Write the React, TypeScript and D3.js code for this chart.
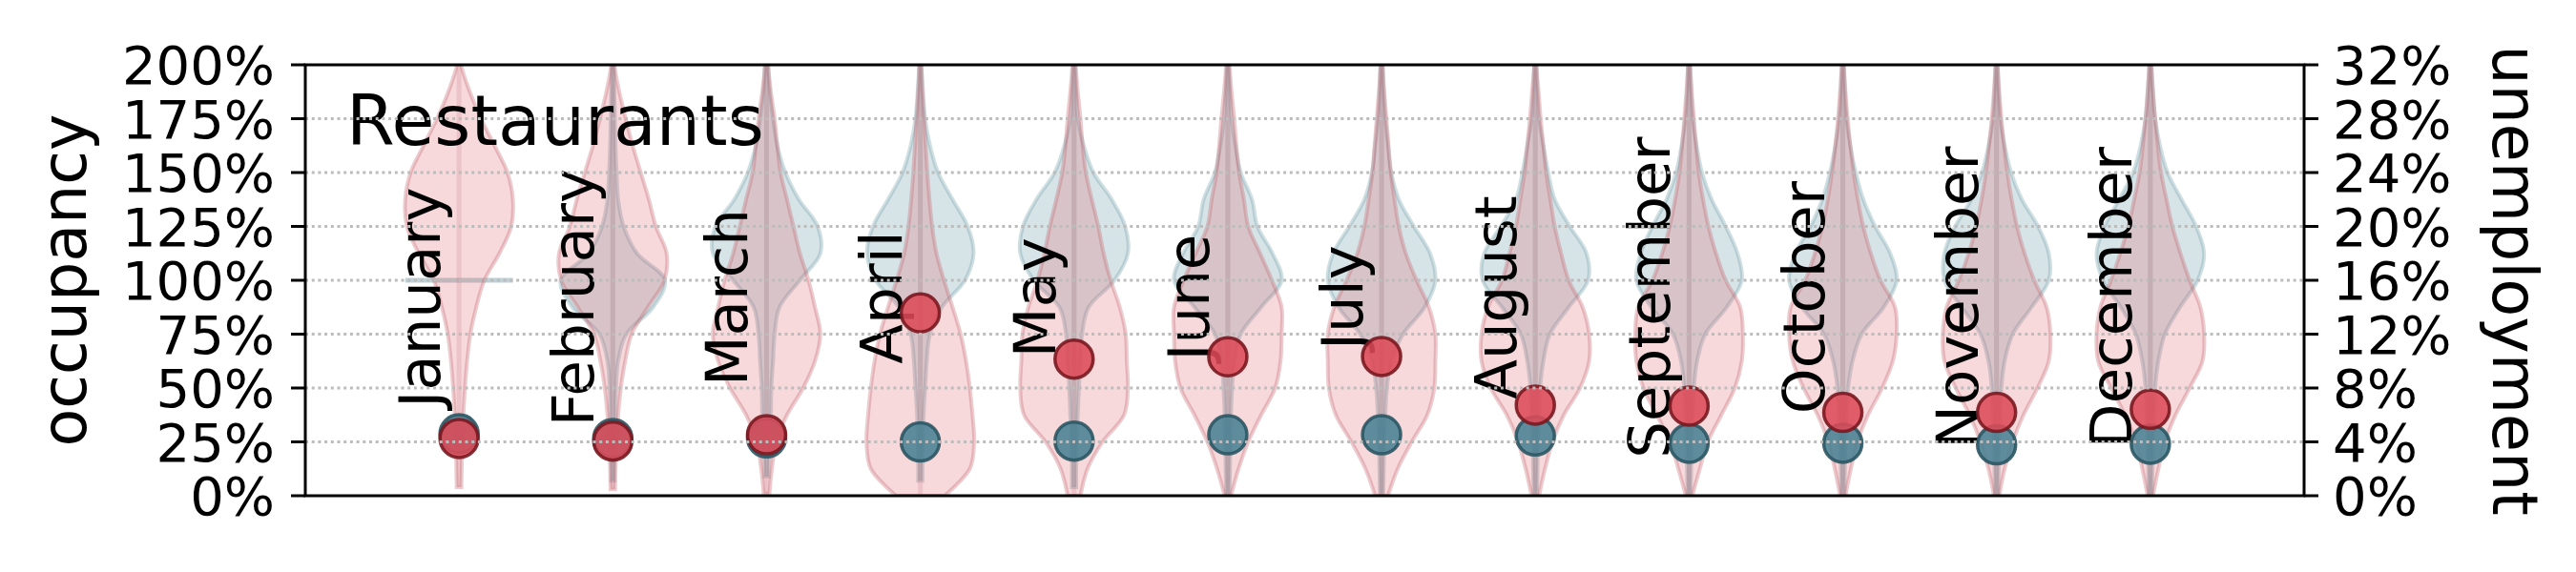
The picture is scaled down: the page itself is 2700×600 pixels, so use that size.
import React, { useEffect, useRef } from "react";
import * as d3 from "d3";

const months = ["January", "February", "March", "April", "May", "June", "July",
    "August", "September", "October", "November", "December"];

// occupancy levels (%) at which the violin widths were read
const levels = [0, 12.5, 25, 37.5, 50, 62.5, 75, 87.5, 100, 112.5, 125, 137.5, 150, 162.5, 175, 187.5, 200];

// 2019 violins (teal), relative half-width at each level
const occ2019 = [
    [0, 0, 0, 0, 0, 0, 0, 0, 1.0, 0, 0, 0, 0, 0, 0, 0, 0],
    [0.03, 0.03, 0.04, 0.05, 0.06, 0.1, 0.25, 0.75, 0.97, 0.45, 0.2, 0.1, 0.07, 0.05, 0.04, 0.03, 0.02],
    [0.04, 0.04, 0.06, 0.08, 0.09, 0.12, 0.15, 0.24, 0.62, 1.0, 0.95, 0.6, 0.35, 0.2, 0.12, 0.06, 0.03],
    [0.04, 0.04, 0.05, 0.06, 0.09, 0.12, 0.18, 0.4, 0.83, 0.99, 0.88, 0.6, 0.33, 0.18, 0.09, 0.05, 0.02],
    [0.04, 0.04, 0.05, 0.07, 0.09, 0.12, 0.15, 0.27, 0.75, 1.0, 0.95, 0.7, 0.36, 0.18, 0.07, 0.04, 0.02],
    [0.03, 0.04, 0.05, 0.06, 0.08, 0.12, 0.24, 0.62, 1.0, 0.83, 0.55, 0.45, 0.24, 0.14, 0.07, 0.04, 0.02],
    [0.03, 0.04, 0.05, 0.07, 0.1, 0.18, 0.4, 0.8, 1.0, 0.9, 0.6, 0.32, 0.18, 0.12, 0.07, 0.04, 0.02],
    [0.03, 0.04, 0.05, 0.07, 0.09, 0.15, 0.27, 0.62, 0.98, 0.95, 0.64, 0.36, 0.24, 0.15, 0.07, 0.04, 0.02],
    [0.03, 0.04, 0.05, 0.07, 0.09, 0.15, 0.3, 0.7, 0.98, 0.9, 0.68, 0.42, 0.24, 0.14, 0.07, 0.04, 0.02],
    [0.03, 0.04, 0.05, 0.07, 0.1, 0.18, 0.35, 0.76, 1.0, 0.88, 0.6, 0.38, 0.24, 0.14, 0.07, 0.04, 0.02],
    [0.03, 0.04, 0.05, 0.07, 0.09, 0.15, 0.3, 0.65, 0.97, 0.97, 0.77, 0.47, 0.27, 0.15, 0.07, 0.04, 0.02],
    [0.03, 0.04, 0.05, 0.07, 0.09, 0.15, 0.27, 0.55, 0.88, 1.0, 0.85, 0.58, 0.32, 0.18, 0.09, 0.05, 0.02],
];
const min2019 = [100, 7, 9, 7, 4, 1, 1, 1, 1, 1, 1, 1];
const max2019 = [100, 215, 215, 215, 215, 215, 215, 215, 215, 215, 215, 215];

// 2020 violins (red)
const occ2020 = [
    [0.04, 0.05, 0.06, 0.08, 0.11, 0.15, 0.21, 0.32, 0.47, 0.75, 0.97, 1.0, 0.9, 0.66, 0.41, 0.2, 0.04],
    [0.04, 0.05, 0.07, 0.1, 0.15, 0.23, 0.35, 0.65, 0.96, 1.0, 0.8, 0.67, 0.52, 0.37, 0.24, 0.12, 0.03],
    [0.05, 0.1, 0.18, 0.38, 0.68, 0.9, 1.0, 0.9, 0.78, 0.62, 0.5, 0.38, 0.26, 0.2, 0.15, 0.08, 0.03],
    [0.45, 0.92, 1.0, 0.97, 0.92, 0.85, 0.75, 0.6, 0.44, 0.3, 0.22, 0.17, 0.13, 0.1, 0.07, 0.04, 0.02],
    [0.12, 0.25, 0.53, 0.93, 1.0, 0.98, 0.96, 0.85, 0.68, 0.55, 0.45, 0.33, 0.22, 0.16, 0.12, 0.07, 0.03],
    [0.06, 0.2, 0.38, 0.62, 0.88, 0.98, 1.0, 1.0, 0.82, 0.6, 0.38, 0.3, 0.21, 0.16, 0.12, 0.07, 0.03],
    [0.12, 0.3, 0.56, 0.85, 0.98, 1.0, 1.0, 0.88, 0.65, 0.45, 0.32, 0.24, 0.17, 0.13, 0.09, 0.05, 0.02],
    [0.07, 0.18, 0.32, 0.53, 0.83, 1.0, 1.0, 0.88, 0.62, 0.48, 0.36, 0.28, 0.2, 0.15, 0.1, 0.06, 0.02],
    [0.06, 0.2, 0.35, 0.6, 0.85, 0.98, 1.0, 0.95, 0.68, 0.5, 0.36, 0.26, 0.18, 0.13, 0.09, 0.05, 0.02],
    [0.05, 0.15, 0.27, 0.47, 0.73, 0.93, 1.0, 0.97, 0.7, 0.52, 0.38, 0.28, 0.2, 0.14, 0.09, 0.05, 0.02],
    [0.05, 0.15, 0.3, 0.5, 0.76, 0.97, 1.0, 0.93, 0.7, 0.52, 0.38, 0.28, 0.2, 0.14, 0.09, 0.05, 0.02],
    [0.05, 0.15, 0.27, 0.47, 0.73, 0.97, 1.0, 0.93, 0.73, 0.56, 0.41, 0.3, 0.2, 0.14, 0.09, 0.05, 0.02],
];
const min2020 = [4, 3, 1, 0, 0, 0, 0, 0, 0, 0, 0, 0];
const max2020 = [215, 215, 215, 215, 215, 215, 215, 215, 215, 215, 215, 215];

// unemployment (%), right axis
const unemp2019 = [4.6, 4.25, 4.3, 4.0, 4.06, 4.53, 4.53, 4.44, 3.9, 3.9, 3.78, 3.83];
const unemp2020 = [4.25, 4.06, 4.53, 13.58, 10.15, 10.32, 10.34, 6.73, 6.66, 6.19, 6.19, 6.42];

const occTicks = [0, 25, 50, 75, 100, 125, 150, 175, 200];
const unempTicks = [0, 4, 8, 12, 16, 20, 24, 28, 32];

const W = 2700, H = 600;
const left = 320, right = 2415, top = 68, bottom = 520;
const font = "DejaVu Sans";

const App = () => {
    const ref = useRef<SVGSVGElement>(null);

    useEffect(() => {
        const svg = d3.select(ref.current);
        svg.selectAll("*").remove();

        const x = d3.scaleLinear().domain([0, 13]).range([left, right]);
        const yL = d3.scaleLinear().domain([0, 200]).range([bottom, top]);
        const yR = d3.scaleLinear().domain([0, 32]).range([bottom, top]);
        const hw = 0.35 * (x(1) - x(0)); // max half width of a violin

        svg.append("clipPath").attr("id", "plot")
            .append("rect")
            .attr("x", left).attr("y", top)
            .attr("width", right - left).attr("height", bottom - top);

        const plot = svg.append("g").attr("clip-path", "url(#plot)");

        const widthAt = (w: number[], v: number) => {
            const i = d3.bisectRight(levels, v) - 1;
            if (i >= levels.length - 1) return w[levels.length - 1];
            const t = (v - levels[i]) / (levels[i + 1] - levels[i]);
            return w[i] + (w[i + 1] - w[i]) * t;
        };

        const drawViolins = (rows: number[][], mins: number[], maxs: number[], fill: string, edge: string, fillOp: number) => {
            rows.forEach((w, i) => {
                const cx = x(i + 1);
                const mn = mins[i], mx = maxs[i];
                if (mn === mx) {
                    // all values equal: matplotlib draws a flat line
                    plot.append("line")
                        .attr("x1", cx - widthAt(w, mn) * hw).attr("x2", cx + widthAt(w, mn) * hw)
                        .attr("y1", yL(mn)).attr("y2", yL(mn))
                        .attr("stroke", edge).attr("stroke-opacity", 0.45).attr("stroke-width", 5);
                    return;
                }
                const pts: [number, number][] = [[mn, widthAt(w, mn)]];
                levels.forEach((l, j) => {
                    if (l > mn && l < mx) pts.push([l, w[j]]);
                });
                pts.push([mx, 0.005]);
                const area = d3.area<[number, number]>()
                    .y(d => yL(d[0]))
                    .x0(d => cx - d[1] * hw)
                    .x1(d => cx + d[1] * hw)
                    .curve(d3.curveCatmullRom);
                plot.append("path")
                    .attr("d", area(pts))
                    .attr("fill", fill).attr("fill-opacity", fillOp)
                    .attr("stroke", edge).attr("stroke-opacity", 0.32).attr("stroke-width", 4);
            });
        };

        drawViolins(occ2019, min2019, max2019, "#5f949f", "#6e9aa6", 0.25);
        drawViolins(occ2020, min2020, max2020, "#d94c5a", "#c25f6b", 0.22);

        // centre bars from min to max
        const bars = (mins: number[], maxs: number[], color: string) => {
            plot.selectAll(null)
                .data(mins.map((m, i) => ({m, M: maxs[i], i})).filter(d => d.m !== d.M))
                .join("line")
                .attr("x1", d => x(d.i + 1)).attr("x2", d => x(d.i + 1))
                .attr("y1", d => yL(d.m)).attr("y2", d => yL(d.M))
                .attr("stroke", color).attr("stroke-opacity", 0.22).attr("stroke-width", 5);
        };
        bars(min2019, max2019, "#7f9faa");
        bars(min2020, max2020, "#c77a84");

        // month labels
        svg.append("g").selectAll("text")
            .data(months)
            .join("text")
            .attr("transform", (d, i) => `translate(${x(i + 1) - 20},${yL(92)}) rotate(-90)`)
            .attr("text-anchor", "middle")
            .attr("font-family", font).attr("font-size", 61)
            .text(d => d);

        // title
        svg.append("text")
            .attr("x", 363).attr("y", 152)
            .attr("font-family", font).attr("font-size", 73)
            .text("Restaurants");

        // unemployment dots
        const dots = (vals: number[], fill: string, stroke: string) => {
            svg.append("g").selectAll("circle")
                .data(vals)
                .join("circle")
                .attr("cx", (d, i) => x(i + 1))
                .attr("cy", d => yR(d))
                .attr("r", 20)
                .attr("fill", fill).attr("fill-opacity", 0.88)
                .attr("stroke", stroke).attr("stroke-width", 3.5).attr("stroke-opacity", 0.9);
        };
        dots(unemp2019, "#4a8193", "#2b5664");
        dots(unemp2020, "#dd4a58", "#7a1820");

        // grid
        svg.append("g").selectAll("line")
            .data(occTicks.slice(1, -1))
            .join("line")
            .attr("x1", left).attr("x2", right)
            .attr("y1", d => yL(d)).attr("y2", d => yL(d))
            .attr("stroke", "#bcbcbc").attr("stroke-width", 3)
            .attr("stroke-dasharray", "3,3.7");

        // frame
        svg.append("rect")
            .attr("x", left).attr("y", top)
            .attr("width", right - left).attr("height", bottom - top)
            .attr("fill", "none").attr("stroke", "black").attr("stroke-width", 3);

        // left axis
        const gl = svg.append("g");
        gl.selectAll("line").data(occTicks).join("line")
            .attr("x1", left - 15).attr("x2", left)
            .attr("y1", d => yL(d)).attr("y2", d => yL(d))
            .attr("stroke", "black").attr("stroke-width", 3);
        gl.selectAll("text").data(occTicks).join("text")
            .attr("x", 288).attr("y", d => yL(d)).attr("dy", "0.36em")
            .attr("text-anchor", "end")
            .attr("font-family", font).attr("font-size", 56)
            .text(d => `${d}%`);

        // right axis
        const gr = svg.append("g");
        gr.selectAll("line").data(unempTicks).join("line")
            .attr("x1", right).attr("x2", right + 15)
            .attr("y1", d => yR(d)).attr("y2", d => yR(d))
            .attr("stroke", "black").attr("stroke-width", 3);
        gr.selectAll("text").data(unempTicks).join("text")
            .attr("x", 2445).attr("y", d => yR(d)).attr("dy", "0.36em")
            .attr("font-family", font).attr("font-size", 56)
            .text(d => `${d}%`);

        // axis titles
        svg.append("text")
            .attr("transform", `translate(90,${(top + bottom) / 2}) rotate(-90)`)
            .attr("text-anchor", "middle")
            .attr("font-family", font).attr("font-size", 65)
            .text("occupancy");
        svg.append("text")
            .attr("transform", `translate(2613,${(top + bottom) / 2}) rotate(90)`)
            .attr("text-anchor", "middle")
            .attr("font-family", font).attr("font-size", 65)
            .text("unemployment");
    }, []);

    return (
        <svg ref={ref} width={W} height={H}
             style={{position: "absolute", left: 0, top: 0, background: "white"}}/>
    );
};

export default App;
